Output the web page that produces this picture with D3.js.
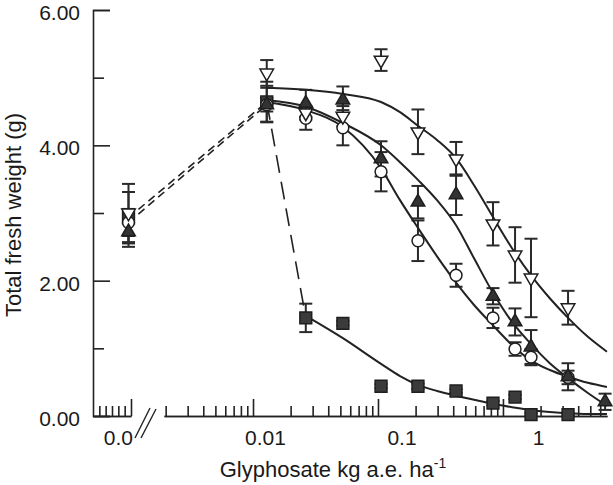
<!DOCTYPE html>
<html><head><meta charset="utf-8">
<script src="https://cdn.jsdelivr.net/npm/d3@7"></script>
<style>
body{margin:0;background:#fff}
svg{display:block}
text{font-family:"Liberation Sans",Arial,Helvetica,sans-serif;fill:#1a1a1a}
</style>
</head><body>
<svg id="c" width="613" height="485"></svg>
<script>
// ---- data ----
const doses      = [0, 0.0103, 0.0199, 0.0372, 0.0708, 0.132, 0.251, 0.468, 0.679, 0.889, 1.66, 3.10];
const downTri    = [3.00, 5.07, 4.48, 4.43, 5.26, 4.20, 3.80, 2.84, 2.38, 2.04, 1.60, null];
const downTriErr = [0.43, 0.19, 0.10, 0.15, 0.16, 0.33, 0.25, 0.32, 0.41, 0.58, 0.25, null];
const upTri      = [2.72, 4.60, 4.62, 4.67, 3.80, 3.16, 3.27, 1.77, 1.39, 1.02, 0.58, 0.21];
const upTriErr   = [0.22, 0.25, 0.20, 0.20, 0.26, 0.24, 0.30, 0.12, 0.20, 0.25, 0.20, 0.12];
const circ       = [2.86, 4.60, 4.40, 4.26, 3.61, 2.59, 2.08, 1.45, 0.99, 0.87, 0.57, null];
const circErr    = [0.20, 0.10, 0.17, 0.26, 0.29, 0.30, 0.17, 0.15, 0.10, 0.12, 0.10, null];
const square     = [2.93, 4.64, 1.45, 1.37, 0.44, 0.44, 0.37, 0.19, 0.28, 0.02, 0.02, null];
const squareErr  = [0.38, 0.30, 0.21, 0.03, 0.03, 0.04, 0.03, 0.03, 0.03, 0.02, 0.02, null];

// fitted curves
const curveDoses  = [0.0103, 0.0199, 0.0372, 0.0708, 0.0975, 0.132, 0.182, 0.251, 0.340, 0.468, 0.645, 0.873, 1.22, 1.66, 2.32, 3.20];
const downTriFit  = [4.85, 4.82, 4.76, 4.64, 4.49, 4.29, 4.08, 3.81, 3.41, 2.94, 2.48, 2.10, 1.74, 1.45, 1.17, 0.95];
const upTriFit    = [4.67, 4.57, 4.33, 4.00, 3.75, 3.49, 3.19, 2.82, 2.33, 1.82, 1.39, 1.08, 0.78, 0.56, 0.34, 0.15];
const circFit     = [4.64, 4.52, 4.27, 3.66, 3.19, 2.78, 2.36, 1.97, 1.64, 1.34, 1.05, 0.83, 0.68, 0.58, 0.49, 0.43];
const squareFit   = [null, 1.48, 1.15, 0.77, 0.59, 0.46, 0.37, 0.30, 0.24, 0.18, 0.13, 0.09, 0.06, 0.04, 0.03, 0.03];

const yTickValues = [0, 2, 4, 6];
const yMinorValues = [1, 3, 5];
const xTickLabels = [0.01, 0.1, 1];
const controlLabel = "0.0";
const controlPlotDose = 0.001;   // untreated control is drawn left of the axis break

// ---- scales ----
const svg = d3.select("#c");
const y = d3.scaleLinear().domain([0, 6]).range([416, 10]);
const x = d3.scaleLog().domain([0.01, 1]).range([265, 538]);          // data & labels
const xTick = d3.scaleLog().domain([0.00194, 6.8]).range([164, 607]); // tick marks of main segment
const xCtl = d3.scaleLinear().domain([0, 6]).range([93, 131]);        // control segment
const px = d => d === 0 ? x(controlPlotDose) : x(d);

const ink = "#222";

// ---- axes ----
const gy = svg.append("g").attr("transform", "translate(93,0)");
gy.call(d3.axisRight(y).tickValues(yTickValues).tickSize(17).tickFormat(""));
gy.append("g").call(d3.axisRight(y).tickValues(yMinorValues).tickSize(11).tickFormat(""));
gy.selectAll("g g path").remove();
gy.selectAll("path").attr("stroke", ink).attr("stroke-width", 1.6);
gy.selectAll("line").attr("stroke", ink).attr("stroke-width", 1.6);
const gyl = svg.append("g").attr("transform", "translate(93,0)")
  .call(d3.axisLeft(y).tickValues(yTickValues).tickSize(0).tickPadding(13).tickFormat(d3.format(".2f")));
gyl.select("path").remove();
gyl.selectAll("text").attr("font-size", 21).attr("dy", "0.45em")
  .attr("font-family", "Liberation Sans, Arial, sans-serif").attr("fill", "#1a1a1a");

// x main segment
const gx = svg.append("g").attr("transform", "translate(0,416)");
const allTicks = xTick.ticks().filter(v => v >= xTick.domain()[0] && v <= xTick.domain()[1]);
const isMajor = v => Math.abs(Math.log10(v) - Math.round(Math.log10(v))) < 1e-6;
gx.append("g").call(d3.axisTop(xTick).tickValues(allTicks.filter(v => !isMajor(v))).tickSize(10).tickSizeOuter(0).tickFormat(""));
gx.append("g").call(d3.axisTop(xTick).tickValues(allTicks.filter(isMajor)).tickSize(17).tickSizeOuter(0).tickFormat(""));
gx.selectAll("path").attr("stroke", ink).attr("stroke-width", 1.6);
gx.selectAll("line").attr("stroke", ink).attr("stroke-width", 1.6);
// control segment
const ctlTicks = [1, 2, 3, 4, 5, 6];
const gc = svg.append("g").attr("transform", "translate(0,416)");
gc.append("g").call(d3.axisTop(xCtl).tickValues(ctlTicks.slice(0, -1)).tickSize(10).tickSizeOuter(0).tickFormat(""));
gc.append("g").call(d3.axisTop(xCtl).tickValues(ctlTicks.slice(-1)).tickSize(17).tickSizeOuter(0).tickFormat(""));
gc.selectAll("path").attr("stroke", ink).attr("stroke-width", 1.6);
gc.selectAll("line").attr("stroke", ink).attr("stroke-width", 1.6);
// break marks
[[135, 438, 150, 408], [141, 438, 156, 409]].forEach(([a, b, c, d]) =>
  svg.append("line").attr("x1", a).attr("y1", b).attr("x2", c).attr("y2", d)
     .attr("stroke", ink).attr("stroke-width", 1.4));

// x labels
const gxl = svg.append("g").attr("transform", "translate(0,416)")
  .call(d3.axisBottom(x).tickValues(xTickLabels).tickSize(0).tickPadding(14).tickFormat(d => String(d)));
gxl.select("path").remove();
gxl.selectAll("text").attr("font-size", 21).attr("font-family", "Liberation Sans, Arial, sans-serif").attr("fill", "#1a1a1a");
svg.append("text").attr("x", xCtl(4)).attr("y", 445).attr("text-anchor", "middle")
  .attr("font-size", 21).text(controlLabel);

// titles
const xt = svg.append("text").attr("x", 333).attr("y", 477).attr("text-anchor", "middle").attr("font-size", 22);
xt.append("tspan").text("Glyphosate kg a.e. ha");
xt.append("tspan").attr("dy", -9).attr("font-size", 14).text("-1");
svg.append("text").attr("transform", "translate(21,215) rotate(-90)").attr("text-anchor", "middle")
  .attr("font-size", 22).text("Total fresh weight (g)");

// ---- error bars ----
const series = [
  {v: square, e: squareErr},
  {v: circ, e: circErr},
  {v: downTri, e: downTriErr},
  {v: upTri, e: upTriErr}
];
const eb = svg.append("g").attr("stroke", "#2a2a2a").attr("stroke-width", 2);
series.forEach(s => {
  doses.forEach((d, i) => {
    const v = s.v[i], e = s.e[i];
    if (v == null || e == null) return;
    const cx = px(d);
    eb.append("line").attr("x1", cx).attr("x2", cx).attr("y1", y(v + e)).attr("y2", y(v - e));
    eb.append("line").attr("x1", cx - 6.5).attr("x2", cx + 6.5).attr("y1", y(v + e)).attr("y2", y(v + e));
    eb.append("line").attr("x1", cx - 6.5).attr("x2", cx + 6.5).attr("y1", y(v - e)).attr("y2", y(v - e));
  });
});

// ---- fitted curves ----
const line = d3.line().defined(d => d[1] != null).x(d => x(d[0])).y(d => y(d[1])).curve(d3.curveMonotoneX);
[downTriFit, upTriFit, circFit, squareFit].forEach(arr => {
  svg.append("path").datum(curveDoses.map((d, i) => [d, arr[i]]))
    .attr("d", line).attr("fill", "none").attr("stroke", ink).attr("stroke-width", 2);
});

// control -> first dose links (short dash), square first -> second dose (long dash)
[square, circ].forEach(arr => {
  svg.append("line").attr("x1", px(doses[0])).attr("y1", y(arr[0]))
    .attr("x2", px(doses[1])).attr("y2", y(arr[1]))
    .attr("stroke", ink).attr("stroke-width", 1.6).attr("stroke-dasharray", "8,5");
});
svg.append("line").attr("x1", px(doses[1])).attr("y1", y(square[1]))
  .attr("x2", px(doses[2])).attr("y2", y(square[2]))
  .attr("stroke", ink).attr("stroke-width", 1.6).attr("stroke-dasharray", "18,9");

// ---- markers ----
function drawPts(vals, type, size, fill, rot) {
  const g = svg.append("g");
  doses.forEach((d, i) => {
    const v = vals[i];
    if (v == null) return;
    g.append("path").attr("d", d3.symbol(type, size)())
      .attr("transform", `translate(${px(d)},${y(v)}) rotate(${rot})`)
      .attr("fill", fill).attr("stroke", "#1e1e1e").attr("stroke-width", 1.5);
  });
}
drawPts(square, d3.symbolSquare, 140, "#3b3b3b", 0);
drawPts(circ, d3.symbolCircle, 110, "#ffffff", 0);
drawPts(downTri, d3.symbolTriangle, 80, "#ffffff", 180);
drawPts(upTri, d3.symbolTriangle, 80, "#333333", 0);
</script>
</body></html>
